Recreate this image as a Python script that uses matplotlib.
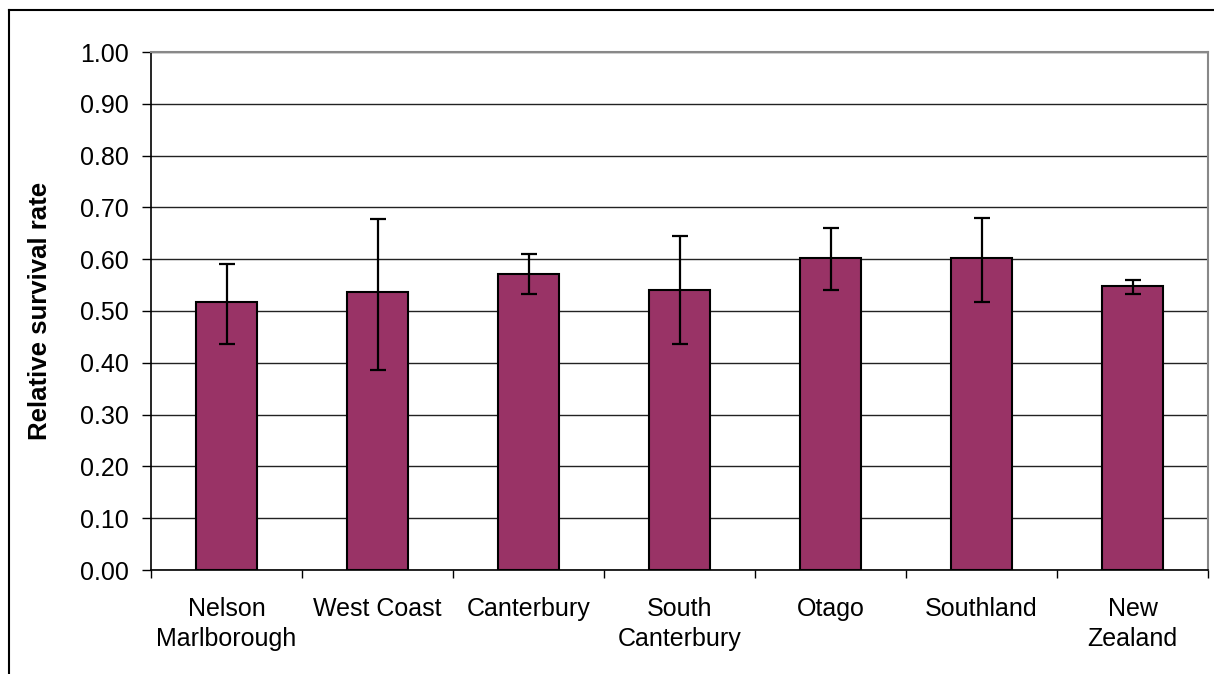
import matplotlib
matplotlib.use("Agg")
import matplotlib.pyplot as plt
import numpy as np
from matplotlib.lines import Line2D

categories = ["Nelson\nMarlborough", "West Coast", "Canterbury", "South\nCanterbury",
              "Otago", "Southland", "New\nZealand"]
rates = [0.518, 0.537, 0.571, 0.541, 0.602, 0.602, 0.548]
lower = [0.436, 0.386, 0.533, 0.436, 0.540, 0.517, 0.533]
upper = [0.591, 0.677, 0.611, 0.645, 0.660, 0.680, 0.560]
yticks = [0.0, 0.1, 0.2, 0.3, 0.4, 0.5, 0.6, 0.7, 0.8, 0.9, 1.0]

plt.rcParams['font.family'] = ['Liberation Sans', 'DejaVu Sans']

fig = plt.figure(figsize=(12.14, 6.74), dpi=100)
ax = fig.add_axes([151/1214, 1-570/674, (1208-151)/1214, (570-52)/674])

x = np.arange(len(categories))
r = np.array(rates)
yerr = np.vstack([r - np.array(lower), np.array(upper) - r])

ax.set_axisbelow(True)
ax.yaxis.grid(True, color='#222222', linewidth=1.0)
ax.bar(x, r, width=0.41, color='#993366', edgecolor='black', linewidth=1.5, zorder=2)
ax.errorbar(x, r, yerr=yerr, fmt='none', ecolor='black', elinewidth=1.6,
            capsize=5.5, capthick=1.6, zorder=3)

ax.set_xlim(-0.5, len(categories) - 0.5)
ax.set_ylim(0, 1.0)
ax.set_yticks(yticks)
ax.set_yticklabels([f"{v:.2f}" for v in yticks], fontsize=18)
ax.set_xticks(x)
ax.set_xticklabels(categories, fontsize=18, linespacing=1.32)
ax.set_xticks(np.arange(-0.5, len(categories)), minor=True)
ax.tick_params(axis='x', which='major', length=0, pad=19.5)
ax.tick_params(axis='x', which='minor', length=6, width=1.0, direction='out', color='black')
ax.tick_params(axis='y', which='major', length=6.5, width=1.0, direction='out', pad=9.5, color='black')

ax.set_ylabel("Relative survival rate", fontsize=18.5, fontweight='bold')
ax.yaxis.set_label_coords(-(151-52)/(1208-151), 0.5)

for s in ['left', 'bottom']:
    ax.spines[s].set_color('black')
    ax.spines[s].set_linewidth(1.2)
for s in ['top', 'right']:
    ax.spines[s].set_color('#888888')
    ax.spines[s].set_linewidth(1.5)

# chart area border
fig.add_artist(Line2D([8.5/1214, 8.5/1214], [0, 1-9.5/674], transform=fig.transFigure,
                      color='black', linewidth=1.5))
fig.add_artist(Line2D([8.5/1214, 1.0], [1-9.5/674, 1-9.5/674], transform=fig.transFigure,
                      color='black', linewidth=1.5))

fig.savefig("out.png", dpi=100)
